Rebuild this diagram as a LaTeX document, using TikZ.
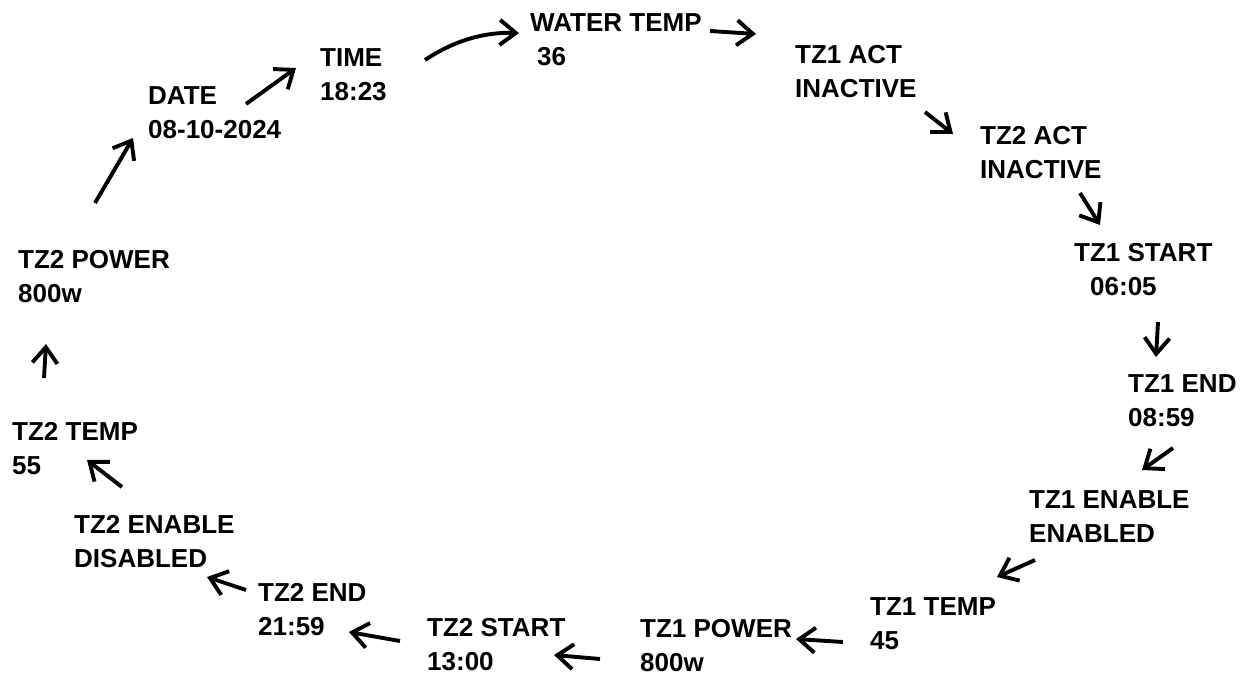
\documentclass[tikz,border=0pt]{standalone}
\usepackage{fontspec}
\setmainfont{Liberation Sans}
\usetikzlibrary{arrows.meta}

\begin{document}
\begin{tikzpicture}[
    x=1pt, y=-1pt,
    item/.style={
        anchor=north west, inner sep=0pt, align=left,
        font=\fontsize{26}{34}\selectfont\bfseries
    },
    arrow/.style={line width=3.9pt, -{Straight Barb[length=16pt,width=25pt]}}
]
\useasboundingbox (0,0) rectangle (1247,675);

% --- Menu screens, clockwise from the top
\node (water)  [item] at (530,13)  {WATER TEMP\\\hspace{7pt}36};
\node (act1)   [item] at (795,45)  {TZ1 ACT\\INACTIVE};
\node (act2)   [item] at (980,126) {TZ2 ACT\\INACTIVE};
\node (start1) [item] at (1074,243) {TZ1 START\\\hspace{16pt}06:05};
\node (end1)   [item] at (1128,374) {TZ1 END\\08:59};
\node (en1)    [item] at (1029,490) {TZ1 ENABLE\\ENABLED};
\node (temp1)  [item] at (870,597) {TZ1 TEMP\\45};
\node (pow1)   [item] at (640,619) {TZ1 POWER\\800w};
\node (start2) [item] at (427,618) {TZ2 START\\13:00};
\node (end2)   [item] at (258,583) {TZ2 END\\21:59};
\node (en2)    [item] at (74,515)  {TZ2 ENABLE\\DISABLED};
\node (temp2)  [item] at (12,422)  {TZ2 TEMP\\55};
\node (pow2)   [item] at (18,250)  {TZ2 POWER\\800w};
\node (date)   [item] at (148,86)  {DATE\\08-10-2024};
\node (time)   [item] at (320,48)  {TIME\\18:23};

% --- Arrow ends
\coordinate (pow2-o)   at (95,203);   \coordinate (date-i)   at (133,138);
\coordinate (date-o)   at (246,104);  \coordinate (time-i)   at (296,68);
\coordinate (time-o)   at (425,60);   \coordinate (water-i)  at (519,33);
\coordinate (water-o)  at (710,31);   \coordinate (act1-i)   at (756,34);
\coordinate (act1-o)   at (925,112);  \coordinate (act2-i)   at (953,134);
\coordinate (act2-o)   at (1080,193); \coordinate (start1-i) at (1100,225);
\coordinate (start1-o) at (1158,322); \coordinate (end1-i)   at (1156,357);
\coordinate (end1-o)   at (1173,448); \coordinate (en1-i)    at (1142,470);
\coordinate (en1-o)    at (1035,560); \coordinate (temp1-i)  at (997,577);
\coordinate (temp1-o)  at (843,642);  \coordinate (pow1-i)   at (796,639);
\coordinate (pow1-o)   at (600,659);  \coordinate (start2-i) at (554,655);
\coordinate (start2-o) at (400,641);  \coordinate (end2-i)   at (349,632);
\coordinate (end2-o)   at (246,590);  \coordinate (en2-i)    at (207,577);
\coordinate (en2-o)    at (122,487);  \coordinate (temp2-i)  at (87,460);
\coordinate (temp2-o)  at (44,378);   \coordinate (pow2-i)   at (46,344);

% --- Arrows
\draw [arrow] (pow2-o)   -- (date-i);
\draw [arrow] (date-o)   -- (time-i);
\draw [arrow] (time-o) .. controls (455,40) and (485,32) .. (water-i);
\draw [arrow] (water-o)  -- (act1-i);
\draw [arrow] (act1-o)   -- (act2-i);
\draw [arrow] (act2-o)   -- (start1-i);
\draw [arrow] (start1-o) -- (end1-i);
\draw [arrow] (end1-o)   -- (en1-i);
\draw [arrow] (en1-o)    -- (temp1-i);
\draw [arrow] (temp1-o)  -- (pow1-i);
\draw [arrow] (pow1-o)   -- (start2-i);
\draw [arrow] (start2-o) -- (end2-i);
\draw [arrow] (end2-o)   -- (en2-i);
\draw [arrow] (en2-o)    -- (temp2-i);
\draw [arrow] (temp2-o)  -- (pow2-i);

\end{tikzpicture}
\end{document}
